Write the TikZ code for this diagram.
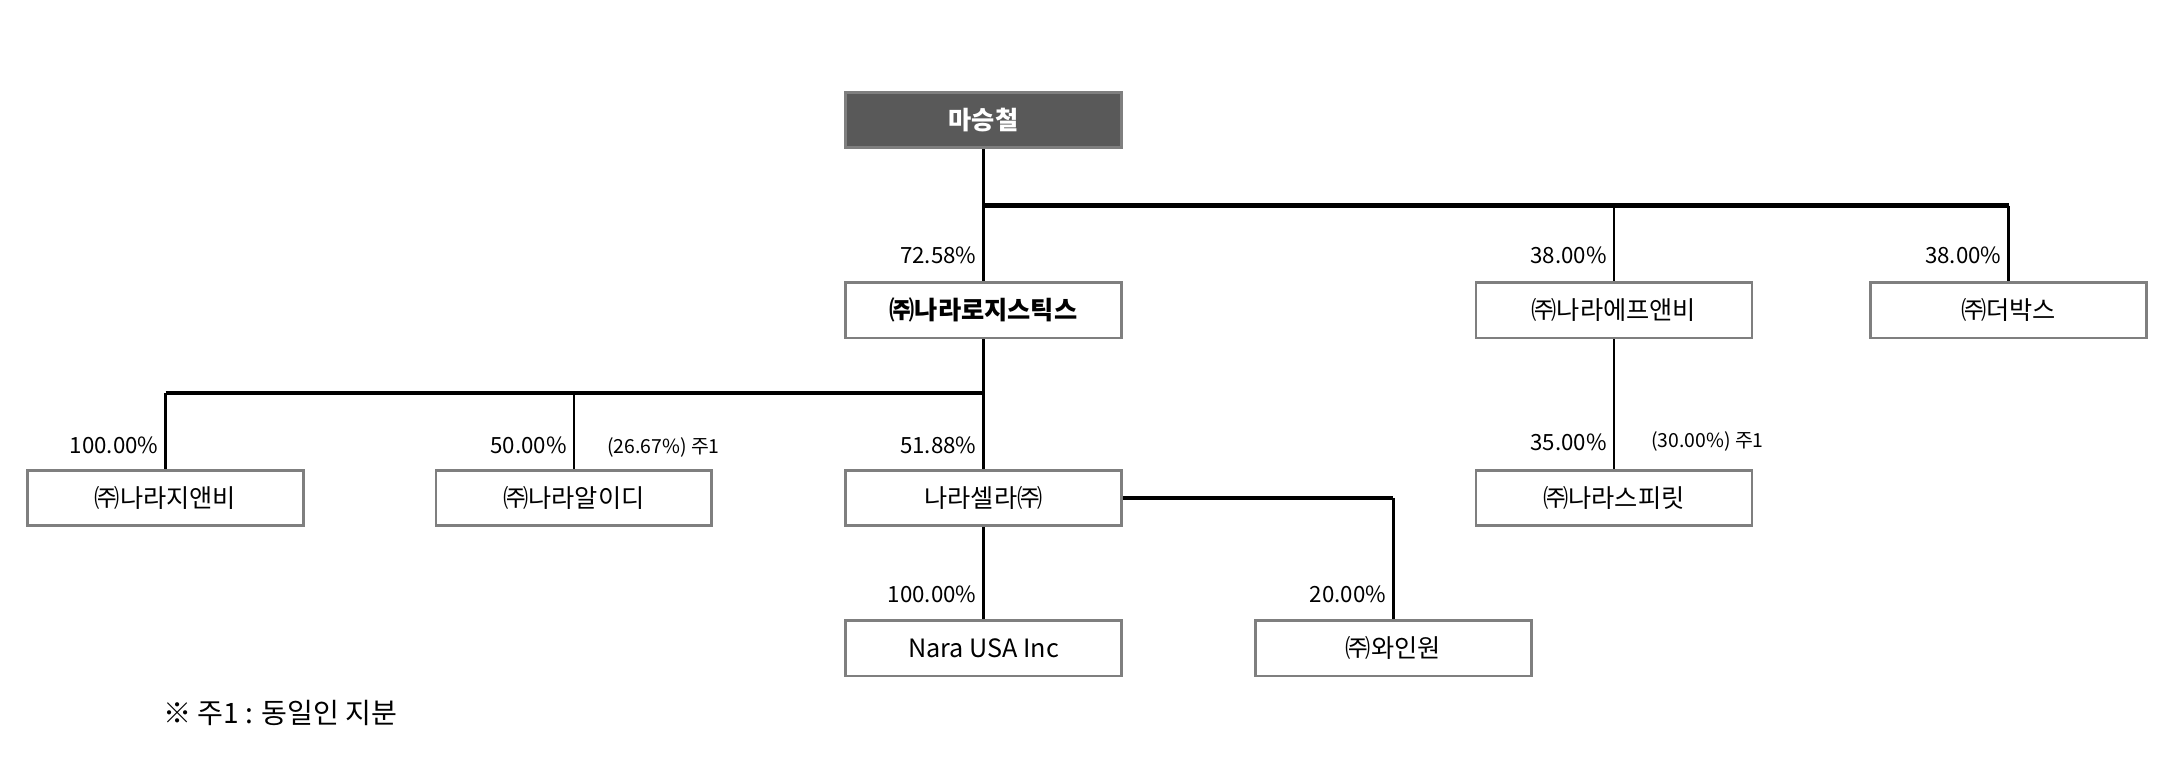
\documentclass[tikz,border=0pt]{standalone}
\usepackage{fontspec}
\setmainfont{Noto Sans CJK KR}
\usetikzlibrary{positioning, calc}
\definecolor{boxgray}{HTML}{7F7F7F}
\definecolor{topgray}{HTML}{595959}
\tikzstyle{company} = [rectangle, minimum width=5cm, minimum height=1cm, text centered, draw=boxgray, line width=1.4pt, fill=white, font=\fontsize{13}{15}\selectfont, inner sep=0pt]
\tikzstyle{owner} = [company, fill=topgray, text=white, font=\fontsize{13}{15}\selectfont\bfseries]
\tikzstyle{share} = [font=\fontsize{11.5}{13}\selectfont, inner sep=0pt]
\tikzstyle{note} = [font=\fontsize{10}{12}\selectfont, inner sep=0pt]
\tikzstyle{link} = [line width=1.4pt, black]
\tikzstyle{link_thick} = [line width=2.4pt, black]

\begin{document}
\begin{tikzpicture}[x=0.025cm, y=-0.025cm]
	\useasboundingbox (0,0) rectangle (1568,553);

		\node (ma) at (713,87) [owner] {마승철};

		\node (logistics) at (713,225) [company, font=\fontsize{13}{15}\selectfont\bfseries] {㈜나라로지스틱스};
		\node (fnb) at (1170,225) [company] {㈜나라에프앤비};
		\node (thebox) at (1456,225) [company] {㈜더박스};

		\node (gnb) at (120,361) [company] {㈜나라지앤비};
		\node (red) at (416,361) [company] {㈜나라알이디};
		\node (cellar) at (713,361) [company] {나라셀라㈜};
		\node (spirit) at (1170,361) [company] {㈜나라스피릿};

		\node (usa) at (713,470) [company] {Nara USA Inc};
		\node (wine) at (1010,470) [company] {㈜와인원};

		\coordinate (top_bus) at (713,149);
		\coordinate (mid_bus) at (713,285);
		\coordinate (cellar_turn) at (1010,361);

		% Connectors from the owner
		\draw [link] (ma) -- (logistics);
		\draw [link_thick] (top_bus) -- (thebox.north |- top_bus);
		\draw [link] (fnb.north |- top_bus) -- (fnb);
		\draw [link] (thebox.north |- top_bus) -- (thebox);
		% -
		\draw [link] (logistics) -- (cellar);
		\draw [link_thick] (gnb.north |- mid_bus) -- (mid_bus);
		\draw [link] (gnb.north |- mid_bus) -- (gnb);
		\draw [link] (red.north |- mid_bus) -- (red);
		% -
		\draw [link] (fnb) -- (spirit);
		\draw [link] (cellar) -- (usa);
		\draw [link_thick] (cellar.east) -- (cellar_turn);
		\draw [link] (cellar_turn) -- (wine);

		% Share labels
		\node [share, left=3.5pt of logistics.north, yshift=13.5pt] (s_logistics) {72.58\%};
		\node [share, left=3.5pt of fnb.north, yshift=13.5pt] (s_fnb) {38.00\%};
		\node [share, left=3.5pt of thebox.north, yshift=13.5pt] (s_thebox) {38.00\%};
		\node [share, left=3.5pt of gnb.north, yshift=12pt] (s_gnb) {100.00\%};
		\node [share, left=3.5pt of red.north, yshift=12pt] (s_red) {50.00\%};
		\node [note, right=17pt of red.north, yshift=11pt] (n_red) {(26.67\%) 주1};
		\node [share, left=3.5pt of cellar.north, yshift=12pt] (s_cellar) {51.88\%};
		\node [share, left=3.5pt of spirit.north, yshift=14pt] (s_spirit) {35.00\%};
		\node [note, right=19pt of spirit.north, yshift=14pt] (n_spirit) {(30.00\%) 주1};
		\node [share, left=3.5pt of usa.north, yshift=13pt] (s_usa) {100.00\%};
		\node [share, left=3.5pt of wine.north, yshift=13pt] (s_wine) {20.00\%};

		\node [share, font=\fontsize{14.5}{16}\selectfont, anchor=west] (footnote) at (118,517) {※ 주1 : 동일인 지분};

\end{tikzpicture}
\end{document}
